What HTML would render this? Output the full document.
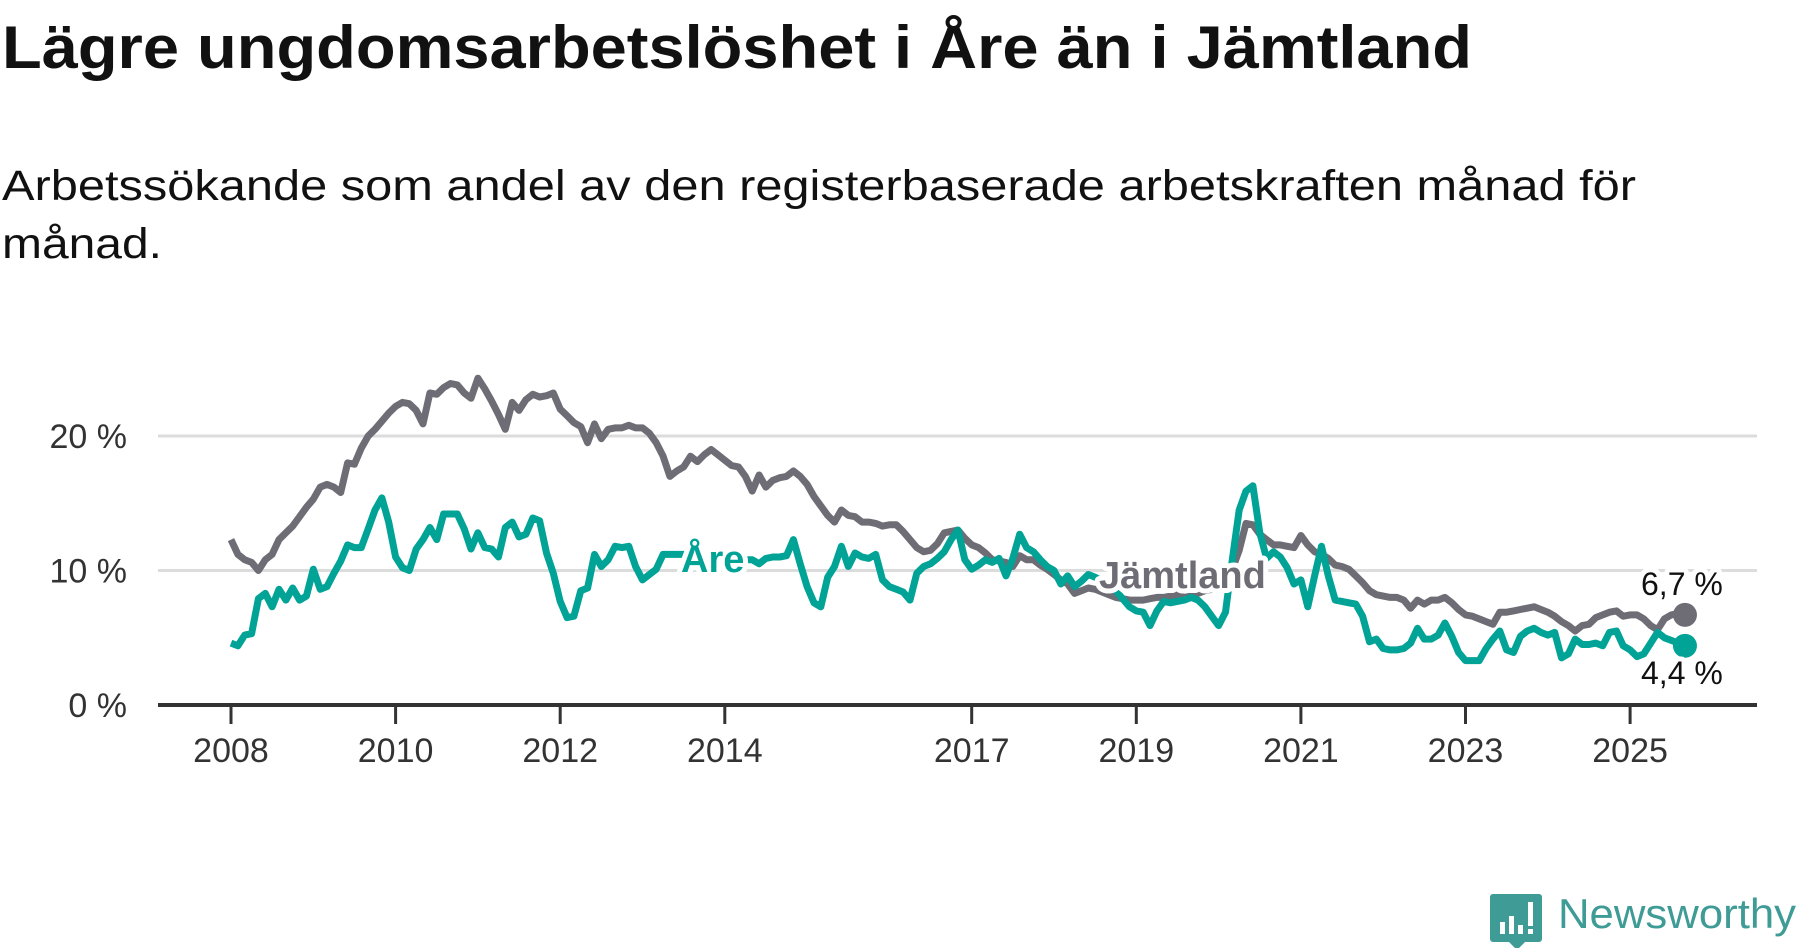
<!DOCTYPE html>
<html><head><meta charset="utf-8"><style>
html,body{margin:0;padding:0;background:#fff;}
svg{display:block;font-family:"Liberation Sans","DejaVu Sans",sans-serif;}
</style></head><body>
<svg id="chart" width="1800" height="948" viewBox="0 0 1800 948">
<text x="2" y="68" font-size="60" font-weight="bold" fill="#111" textLength="1470" lengthAdjust="spacingAndGlyphs">Lägre ungdomsarbetslöshet i Åre än i Jämtland</text>
<text x="2" y="200" font-size="43" fill="#111" textLength="1634" lengthAdjust="spacingAndGlyphs">Arbetssökande som andel av den registerbaserade arbetskraften månad för</text>
<text x="2" y="258" font-size="43" fill="#111" textLength="160" lengthAdjust="spacingAndGlyphs">månad.</text>
<g id="grid"></g>
<g id="yaxis"></g>
<g id="xaxis"></g>
<g id="lines"></g>
<g id="labels"></g>
<g>
<path d="M1493 894 h46 a3 3 0 0 1 3 3 v42 a3 3 0 0 1 -3 3 h-14 l-8 8 l-8 -8 h-16 a3 3 0 0 1 -3 -3 v-42 a3 3 0 0 1 3 -3z" fill="#3f9b95"/>
<rect x="1500" y="922" width="5" height="12" fill="#fff"/><rect x="1509" y="916" width="5" height="18" fill="#fff"/><rect x="1518" y="925" width="5" height="9" fill="#fff"/><rect x="1528" y="902" width="5" height="24" fill="#fff"/><rect x="1528" y="929" width="5" height="5" fill="#fff"/>
<text x="1558" y="928" font-size="42" fill="#3f9b95" textLength="238" lengthAdjust="spacingAndGlyphs">Newsworthy</text>
</g>
</svg>
<script>
const yTicks = [0, 10, 20];
const yTickLabels = ["0 %", "10 %", "20 %"];
const xTickYears = [2008, 2010, 2012, 2014, 2017, 2019, 2021, 2023, 2025];
const startYear = 2008;
const jamtland = [
12.3,11.2,10.8,10.6,10.0,10.8,11.2,12.3,12.8,13.3,14.0,14.7,
15.3,16.2,16.4,16.2,15.8,18.0,17.9,19.1,20.0,20.5,21.1,21.7,
22.2,22.5,22.4,21.9,20.9,23.2,23.1,23.6,23.9,23.8,23.2,22.8,
24.3,23.5,22.6,21.6,20.5,22.5,21.9,22.7,23.1,22.9,23.0,23.2,
22.0,21.5,21.0,20.7,19.5,20.9,19.8,20.5,20.6,20.6,20.8,20.6,
20.6,20.2,19.5,18.5,17.0,17.4,17.7,18.5,18.1,18.6,19.0,18.6,
18.2,17.8,17.7,17.0,15.9,17.1,16.2,16.7,16.9,17.0,17.4,17.0,
16.4,15.5,14.8,14.1,13.6,14.5,14.1,14.0,13.6,13.6,13.5,13.3,
13.4,13.4,12.9,12.3,11.7,11.4,11.5,12.0,12.8,12.9,13.0,12.4,
11.9,11.7,11.3,10.8,10.7,10.6,10.3,11.1,10.8,10.8,10.4,10.1,
9.7,9.3,9.0,8.3,8.5,8.7,8.6,8.4,8.2,8.0,7.9,7.8,
7.8,7.8,7.9,8.0,8.0,8.1,8.2,8.0,8.1,8.3,8.5,8.6,
8.8,9.3,10.1,11.5,13.5,13.4,12.7,12.3,11.9,11.9,11.8,11.7,
12.6,11.9,11.4,11.2,10.9,10.4,10.3,10.1,9.6,9.1,8.5,8.2,
8.1,8.0,8.0,7.8,7.2,7.8,7.5,7.8,7.8,8.0,7.6,7.1,
6.7,6.6,6.4,6.2,6.0,6.9,6.9,7.0,7.1,7.2,7.3,7.1,
6.9,6.6,6.2,5.9,5.5,5.9,6.0,6.5,6.7,6.9,7.0,6.6,
6.7,6.7,6.4,5.9,5.6,6.4,6.7,6.8,6.7];
const are = [
4.6,4.4,5.2,5.3,7.9,8.3,7.3,8.6,7.8,8.7,7.8,8.1,
10.1,8.6,8.8,9.8,10.7,11.9,11.7,11.7,13.1,14.5,15.4,13.6,
11.0,10.2,10.0,11.6,12.3,13.2,12.3,14.2,14.2,14.2,13.1,11.6,
12.8,11.7,11.6,11.0,13.2,13.6,12.5,12.7,13.9,13.7,11.3,9.8,
7.7,6.5,6.6,8.5,8.7,11.2,10.3,10.8,11.8,11.7,11.8,10.3,
9.3,9.7,10.1,11.2,11.2,11.2,11.2,11.0,10.8,10.6,10.5,10.5,
10.5,10.6,10.7,10.8,10.8,10.5,10.9,11.0,11.0,11.1,12.3,10.5,
8.8,7.6,7.3,9.5,10.3,11.8,10.3,11.3,11.0,10.9,11.2,9.3,
8.8,8.6,8.4,7.8,9.8,10.3,10.5,10.9,11.4,12.3,13.0,10.8,
10.1,10.4,10.8,10.6,10.9,9.6,10.9,12.7,11.7,11.4,10.8,10.3,
10.0,9.0,9.6,8.8,9.2,9.7,9.5,9.2,8.9,8.5,7.9,7.3,
7.0,6.9,5.9,7.0,7.7,7.6,7.7,7.8,8.0,7.8,7.3,6.6,
5.9,6.9,10.8,14.5,15.9,16.3,12.8,10.9,11.4,11.0,10.2,9.0,
9.3,7.3,9.6,11.8,9.6,7.8,7.7,7.6,7.5,6.6,4.7,4.9,
4.2,4.1,4.1,4.2,4.6,5.7,4.9,4.9,5.2,6.1,5.1,3.9,
3.3,3.3,3.3,4.2,4.9,5.5,4.1,3.9,5.1,5.5,5.7,5.4,
5.2,5.4,3.5,3.8,4.9,4.5,4.5,4.6,4.4,5.4,5.5,4.4,
4.1,3.6,3.8,4.6,5.4,5.0,4.8,4.6,4.4];

const NS = "http://www.w3.org/2000/svg";
const X0 = 231, PX_PER_YEAR = 82.3, Y0 = 705, PX_PER_PCT = 13.45;
const xYear = y => X0 + (y - startYear) * PX_PER_YEAR;
const xIdx = i => X0 + i * PX_PER_YEAR / 12;
const yVal = v => Y0 - v * PX_PER_PCT;
function mk(tag, attrs, parent) {
  const e = document.createElementNS(NS, tag);
  for (const k in attrs) e.setAttribute(k, attrs[k]);
  parent.appendChild(e);
  return e;
}
const grid = document.getElementById('grid');
const yaxis = document.getElementById('yaxis');
const xaxis = document.getElementById('xaxis');
const lines = document.getElementById('lines');
const labels = document.getElementById('labels');

yTicks.forEach((t, i) => {
  if (t !== 0) {
    const g = mk('line', {x1: 158, x2: 1757, y1: yVal(t), y2: yVal(t), stroke: '#dcdcdc', 'stroke-width': 3}, grid);
    
    
  }
  const tx = mk('text', {x: 127, y: yVal(t) + 12, 'text-anchor': 'end', 'font-size': 34, fill: '#333'}, yaxis);
  tx.textContent = yTickLabels[i];
  
  
});
const ax = mk('line', {x1: 158, x2: 1757, y1: Y0, y2: Y0, stroke: '#333', 'stroke-width': 4}, xaxis);


xTickYears.forEach(yr => {
  const t = mk('line', {x1: xYear(yr), x2: xYear(yr), y1: Y0, y2: Y0 + 19, stroke: '#333', 'stroke-width': 3}, xaxis);
  
  
  const l = mk('text', {x: xYear(yr), y: 762, 'text-anchor': 'middle', 'font-size': 34, fill: '#333'}, xaxis);
  l.textContent = yr;
  
  
});
function path(arr) { return arr.map((v, i) => (i ? 'L' : 'M') + xIdx(i).toFixed(1) + ' ' + yVal(v).toFixed(1)).join(' '); }
const gp = mk('path', {d: path(jamtland), fill: 'none', stroke: '#6e6d75', 'stroke-width': 7, 'stroke-linejoin': 'round'}, lines);


const tp = mk('path', {d: path(are), fill: 'none', stroke: '#00a396', 'stroke-width': 7, 'stroke-linejoin': 'round'}, lines);


const nJ = jamtland.length - 1, nA = are.length - 1;
const gd = mk('circle', {cx: xIdx(nJ), cy: yVal(jamtland[nJ]), r: 12, fill: '#6e6d75'}, lines);


const td = mk('circle', {cx: xIdx(nA), cy: yVal(are[nA]), r: 12, fill: '#00a396'}, lines);



function lbl(txt, x, y, size, color, bold, name) {
  const t = mk('text', {x: x, y: y, 'font-size': size, fill: color, 'font-weight': bold ? 'bold' : 'normal', stroke: '#fff', 'stroke-width': 10, 'paint-order': 'stroke', 'stroke-linejoin': 'round'}, labels);
  t.textContent = txt;
  
  
  return t;
}
lbl('Åre', 681, 572, 38, '#00a396', true, 'are-series-label');
lbl('Jämtland', 1099, 588, 38, '#6e6d75', true, 'jamtland-series-label');
lbl(String(jamtland[nJ]).replace('.', ',') + ' %', 1641, 595, 32, '#111', false, 'jamtland-end-value');
lbl(String(are[nA]).replace('.', ',') + ' %', 1641, 684, 32, '#111', false, 'are-end-value');
</script>
</body></html>
